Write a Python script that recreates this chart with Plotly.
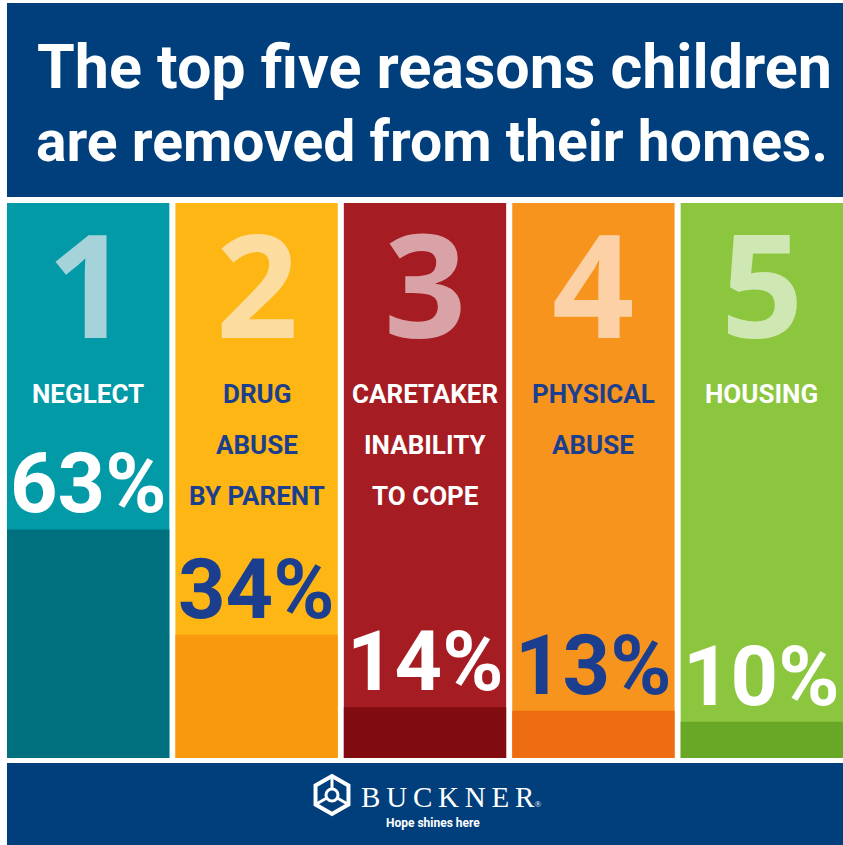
import math
import plotly.graph_objects as go

# ---------------- data ----------------
ranks = ["1", "2", "3", "4", "5"]
reason_lines = [
    ["NEGLECT"],
    ["DRUG", "ABUSE", "BY PARENT"],
    ["CARETAKER", "INABILITY", "TO COPE"],
    ["PHYSICAL", "ABUSE"],
    ["HOUSING"],
]
percent = [63, 34, 14, 13, 10]
title_lines = ["The top five reasons children", "are removed from their homes."]
brand = "BUCKNER"
tagline = "Hope shines here"

# ---------------- style ----------------
W, H = 843, 845
NAVY = "#003f7c"
light_cols = ["#029aa7", "#fdb614", "#a51c23", "#f7941d", "#8cc63f"]
dark_cols = ["#00707f", "#f9990d", "#800c10", "#ee6c12", "#69a826"]
rank_cols = ["#a6d3d9", "#fddca0", "#d9a2a7", "#fcd1a6", "#cfe7b3"]
text_cols = ["#ffffff", "#1b3f8e", "#ffffff", "#1b3f8e", "#ffffff"]
NARROW = "Roboto, DejaVu Sans Condensed, sans-serif"
YMAX = 153


def px(x):
    return x / W


def py(y):
    return 1 - y / H


xs = list(range(len(percent)))

fig = go.Figure()
fig.add_bar(x=xs, y=[YMAX] * len(xs), marker=dict(color=light_cols, line=dict(width=0)),
            width=0.964, hoverinfo="skip")
fig.add_bar(x=xs, y=percent, marker=dict(color=dark_cols, line=dict(width=0)),
            width=0.964, hoverinfo="skip")

ann = []
# title
ann.append(dict(text=title_lines[0], x=px(434), y=py(67), xref="paper", yref="paper",
                showarrow=False, xanchor="center", yanchor="middle",
                font=dict(family=NARROW, size=61, color="white", weight="bold")))
ann.append(dict(text=title_lines[1], x=px(432), y=py(141), xref="paper", yref="paper",
                showarrow=False, xanchor="center", yanchor="middle",
                font=dict(family=NARROW, size=57, color="white", weight="bold")))

for i in xs:
    ann.append(dict(text=ranks[i], x=i, y=py(282), xref="x", yref="paper",
                    showarrow=False, xanchor="center", yanchor="middle",
                    font=dict(family="Open Sans, sans-serif", size=144, color=rank_cols[i], weight="bold")))
    for j, line in enumerate(reason_lines[i]):
        ann.append(dict(text=line, x=i, y=py(394 + 51 * j), xref="x", yref="paper",
                        showarrow=False, xanchor="center", yanchor="middle",
                        font=dict(family=NARROW, size=26, color=text_cols[i], weight="bold")))
    ann.append(dict(text=f"{percent[i]}%", x=i, y=percent[i], xref="x", yref="y",
                    showarrow=False, xanchor="center", yanchor="bottom", yshift=-5,
                    font=dict(family=NARROW, size=83, color=text_cols[i], weight="bold")))

# footer brand
ann.append(dict(text="\u2009".join(brand) + "<span style='font-size:9px'>\u00ae</span>",
                x=px(359), y=py(797), xref="paper", yref="paper",
                showarrow=False, xanchor="left", yanchor="middle",
                font=dict(family="Liberation Serif, DejaVu Serif, serif", size=29, color="white")))
ann.append(dict(text=tagline, x=px(433), y=py(823), xref="paper", yref="paper",
                showarrow=False, xanchor="center", yanchor="middle",
                font=dict(family=NARROW, size=12, color="white", weight="bold")))

shapes = [
    dict(type="rect", xref="paper", yref="paper", x0=px(7), x1=1, y0=py(197), y1=py(3),
         fillcolor=NAVY, line=dict(width=0), layer="below"),
    dict(type="rect", xref="paper", yref="paper", x0=px(7), x1=1, y0=0, y1=py(763),
         fillcolor=NAVY, line=dict(width=0), layer="below"),
]

# logo icon (hexagonal interlocking mark)
cx, cy, r = 332, 795, 19
hexpts = [(cx + r * math.cos(math.radians(a)), cy + r * math.sin(math.radians(a))) for a in range(30, 390, 60)]
path = "M " + " L ".join(f"{px(x):.5f},{py(y):.5f}" for x, y in hexpts) + " Z"
shapes.append(dict(type="path", path=path, xref="paper", yref="paper",
                   line=dict(color="white", width=4), fillcolor="rgba(0,0,0,0)"))
inner = []
for a in (270, 30, 150):
    x2 = cx + r * 0.95 * math.cos(math.radians(a))
    y2 = cy + r * 0.95 * math.sin(math.radians(a))
    inner.append(f"M {px(cx):.5f},{py(cy):.5f} L {px(x2):.5f},{py(y2):.5f}")
shapes.append(dict(type="path", path=" ".join(inner), xref="paper", yref="paper",
                   line=dict(color="white", width=3)))
shapes.append(dict(type="circle", xref="paper", yref="paper",
                   x0=px(cx - 6), x1=px(cx + 6), y0=py(cy + 6), y1=py(cy - 6),
                   line=dict(color="white", width=3), fillcolor=NAVY))

fig.update_layout(
    width=W, height=H, margin=dict(l=0, r=0, t=0, b=0),
    paper_bgcolor="white", plot_bgcolor="rgba(0,0,0,0)",
    barmode="overlay", showlegend=False,
    xaxis=dict(domain=[px(7), 1], range=[-0.482, 4.482], visible=False, fixedrange=True),
    yaxis=dict(domain=[py(758), py(203)], range=[0, YMAX], visible=False, fixedrange=True),
    annotations=ann, shapes=shapes,
)

fig.write_html("out.html")
